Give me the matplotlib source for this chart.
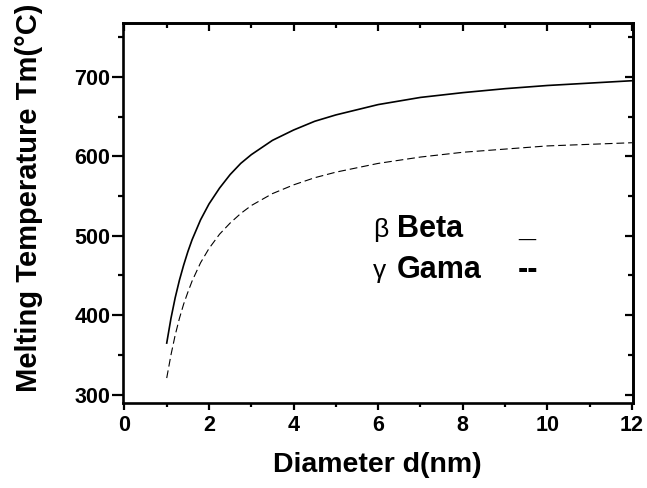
import matplotlib
matplotlib.use("Agg")
import matplotlib.pyplot as plt
from matplotlib.ticker import MultipleLocator

plt.rcParams['font.family'] = ['Liberation Sans', 'DejaVu Sans']

diameter = [1.0, 1.1, 1.2, 1.3, 1.4, 1.5, 1.6, 1.8, 2.0, 2.25, 2.5, 2.75, 3.0,
            3.5, 4.0, 4.5, 5.0, 6.0, 7.0, 8.0, 9.0, 10.0, 11.0, 12.0]
beta_tm = [365, 396, 422, 444, 463, 480, 495, 520, 540, 560, 577, 591, 602,
           620, 633, 644, 652, 665, 674, 680, 685, 689, 692, 695]
gamma_tm = [321, 350, 375, 396, 414, 429, 443, 466, 484, 502, 516, 528, 538,
            553, 564, 573, 580, 591, 599, 605, 609, 613, 615, 617]

x_ticks = [0, 2, 4, 6, 8, 10, 12]
y_ticks = [300, 400, 500, 600, 700]

fig = plt.figure(figsize=(6.47, 4.88), dpi=100)
ax = fig.add_axes([0.1897, 0.1748, 0.978 - 0.1897, 0.9535 - 0.1748])

ax.plot(diameter, beta_tm, color='black', lw=1.2, ls='-')
ax.plot(diameter, gamma_tm, color='black', lw=0.8, ls=(0, (7, 3.5)))

ax.set_xlim(-0.04, 12.02)
ax.set_ylim(290, 768)
ax.set_xticks(x_ticks, labels=[str(v) for v in x_ticks], fontsize=15.5, fontweight='bold')
ax.set_yticks(y_ticks, labels=[str(v) for v in y_ticks], fontsize=15.5, fontweight='bold')
ax.xaxis.set_minor_locator(MultipleLocator(1))
ax.yaxis.set_minor_locator(MultipleLocator(50))

for s in ax.spines.values():
    s.set_linewidth(1.9)

ax.tick_params(axis='x', which='major', direction='out', width=1.6, length=5, pad=4, top=False)
ax.tick_params(axis='x', which='minor', direction='out', width=1.6, length=3, top=False)
ax.tick_params(axis='y', which='major', direction='out', width=1.6, length=8, pad=1, right=False)
ax.tick_params(axis='y', which='minor', direction='out', width=1.6, length=3.5, right=False)

# mirrored inward ticks on top/right
secx = ax.secondary_xaxis('top')
secx.set_xticks(x_ticks)
secx.xaxis.set_minor_locator(MultipleLocator(1))
secx.tick_params(which='major', direction='in', length=6, width=1.6, labeltop=False)
secx.tick_params(which='minor', direction='in', length=3.5, width=1.6)
secx.spines['top'].set_linewidth(1.9)
secy = ax.secondary_yaxis('right')
secy.set_yticks(y_ticks)
secy.yaxis.set_minor_locator(MultipleLocator(50))
secy.tick_params(which='major', direction='in', length=6, width=1.6, labelright=False)
secy.tick_params(which='minor', direction='in', length=3.5, width=1.6)
secy.spines['right'].set_linewidth(1.9)

ax.set_xlabel('Diameter d(nm)', fontsize=20.5, fontweight='bold', va='center')
ax.xaxis.set_label_coords(0.5, -0.164)
ax.set_ylabel('Melting Temperature Tm(°C)', fontsize=21, fontweight='bold', va='center')
ax.yaxis.set_label_coords(-0.1837, 0.54)

# legend-like text
ax.text(5.88, 499, 'β', fontsize=19, ha='left', va='baseline')
ax.text(6.45, 499, 'Beta', fontsize=22, fontweight='bold', ha='left', va='baseline')
ax.text(9.31, 499, '_', fontsize=22, fontweight='bold', ha='left', va='baseline')
ax.text(5.88, 447, 'γ', fontsize=19, ha='left', va='baseline')
ax.text(6.45, 447, 'Gama', fontsize=22, fontweight='bold', ha='left', va='baseline')
ax.text(9.31, 447, '--', fontsize=22, fontweight='bold', ha='left', va='baseline')

fig.savefig('out.png', dpi=100)
